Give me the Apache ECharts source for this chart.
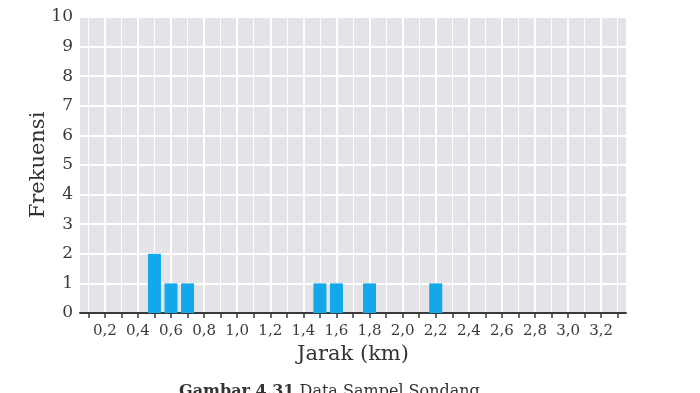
<!DOCTYPE html>
<html><head><meta charset="utf-8">
<script src="https://cdn.jsdelivr.net/npm/echarts@6/dist/echarts.min.js"></script>
<style>html,body{margin:0;padding:0;background:#fff}#c{width:700px;height:393px}</style>
</head><body><div id="c"></div>
<script>
// data
var distances = [0.5, 0.6, 0.7, 1.5, 1.6, 1.8, 2.2];
var frequencies = [2, 1, 1, 1, 1, 1, 1];
var xMin = 0.05, xMax = 3.35, step = 0.05;
var yTicks = [0,1,2,3,4,5,6,7,8,9,10];
var xAxisTitle = 'Jarak (km)';
var yAxisTitle = 'Frekuensi';

var cats = [];
for (var i = 0; Math.round((xMin + i*step)*100) <= Math.round(xMax*100); i++) {
  cats.push((Math.round((xMin + i*step)*100)/100).toFixed(2));
}
function hund(v){ return Math.round(parseFloat(v)*100); }
function isTenth(idx, v){ return hund(v) % 10 === 0; }
function isMajor(idx, v){ return hund(v) % 20 === 0; }
function isMinor(idx, v){ return hund(v) % 10 === 0 && hund(v) % 20 !== 0; }

var serif = 'DejaVu Serif';
var chart = echarts.init(document.getElementById('c'));
chart.setOption({
  animation: false,
  grid: { left: 80, right: 74, top: 17, bottom: 80, backgroundColor: '#e4e4e8', show: true, borderWidth: 0 },
  xAxis: [
    { type: 'category', data: cats, boundaryGap: false, position: 'bottom',
      axisLine: { show: true, lineStyle: { color: '#3a3a3a', width: 2 } },
      axisTick: { show: true, interval: isTenth, length: 5, lineStyle: { color: '#3a3a3a', width: 1.5 } },
      axisLabel: { interval: function(i, v){ return isMajor(i, v) && hund(v) >= 20 && hund(v) <= 320; },
        formatter: function(v){ return parseFloat(v).toFixed(1).replace('.', ','); },
        fontFamily: serif, fontSize: 15, color: '#3a3a3a', margin: 11 },
      splitLine: { show: true, interval: isMajor, lineStyle: { color: '#ffffff', width: 2 } },
      name: xAxisTitle, nameLocation: 'middle', nameGap: 31, nameMoveOverlap: false,
      nameTextStyle: { fontFamily: serif, fontSize: 21, color: '#333' }
    },
    { type: 'category', data: cats, boundaryGap: false, position: 'bottom',
      axisLine: { show: false }, axisTick: { show: false }, axisLabel: { show: false },
      splitLine: { show: true, interval: isMinor, lineStyle: { color: '#ffffff', width: 1 } }
    },
    { type: 'value', min: xMin, max: xMax, show: false }
  ],
  yAxis: {
    type: 'value', min: yTicks[0], max: yTicks[yTicks.length-1], interval: 1,
    axisLine: { show: false }, axisTick: { show: false },
    axisLabel: { fontFamily: serif, fontSize: 17, color: '#3a3a3a', margin: 7 },
    splitLine: { show: true, lineStyle: { color: '#ffffff', width: 2 } },
    name: yAxisTitle, nameLocation: 'middle', nameGap: 31, nameMoveOverlap: false,
    nameTextStyle: { fontFamily: serif, fontSize: 21, color: '#333' }
  },
  series: [{
    type: 'bar', xAxisIndex: 2, barWidth: 13,
    itemStyle: { color: '#12a8ea', borderRadius: 0 },
    data: distances.map(function(d, i){ return [d, frequencies[i]]; }),
    z: 3
  }],
  graphic: [{
    type: 'text', left: 179, top: 384,
    style: { text: '{b|Gambar 4.31} Data Sampel Sondang',
      rich: { b: { fontFamily: serif, fontWeight: 'bold', fontSize: 16, fill: '#333' } },
      fontFamily: serif, fontSize: 16, fill: '#333' }
  }]
});
</script></body></html>
